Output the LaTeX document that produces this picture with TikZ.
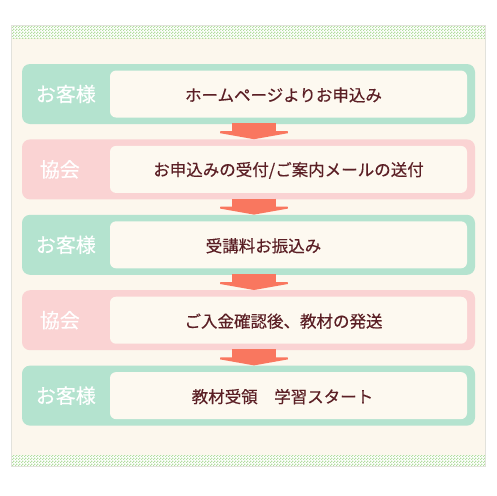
\documentclass[tikz,border=0pt]{standalone}
\usepackage{fontspec}
\newfontfamily\jpfont[FakeBold=0.4]{Noto Sans CJK JP}
\usetikzlibrary{arrows.meta,positioning,patterns}

\definecolor{cream}{HTML}{FCF7ED}
\definecolor{paper}{HTML}{FDF9F0}
\definecolor{mint}{HTML}{B4E3CF}
\definecolor{blush}{HTML}{FAD3D3}
\definecolor{salmon}{HTML}{F9775F}
\definecolor{maroon}{HTML}{5B1F25}
\definecolor{checkgreen}{HTML}{B2DE9F}
\definecolor{framegray}{HTML}{E2E2DC}

\pgfdeclarepatternformonly{finecheck}{\pgfpointorigin}{\pgfqpoint{3pt}{3pt}}{\pgfqpoint{3pt}{3pt}}{%
  \pgfpathrectangle{\pgfpointorigin}{\pgfqpoint{1.5pt}{1.5pt}}%
  \pgfpathrectangle{\pgfqpoint{1.5pt}{1.5pt}}{\pgfqpoint{1.5pt}{1.5pt}}%
  \pgfusepath{fill}}

\begin{document}
\begin{tikzpicture}[
  x=1pt, y=-1pt,
  node distance=15pt,
  row/.style={rectangle, rounded corners=8pt, inner sep=0pt, minimum width=453pt, minimum height=60pt},
  client/.style={row, fill=mint},
  office/.style={row, fill=blush},
  panel/.style={rectangle, rounded corners=6pt, fill=paper, inner sep=0pt, minimum width=357pt, minimum height=47pt},
  tag/.style={font=\jpfont\fontsize{20}{24}\selectfont, text=white, inner sep=0pt},
  msg/.style={font=\jpfont\fontsize{16.5}{20}\selectfont, text=maroon, inner sep=0pt},
  flow/.style={salmon, line width=44pt, -{Triangle[width=90pt,length=8pt]}}
]
\useasboundingbox (0,0) rectangle (496,496);

% frame
\fill[cream] (11,25) rectangle (485,466);
\fill[white] (11,25) rectangle (485,38);
\fill[white] (11,455) rectangle (485,466);
\fill[pattern=finecheck, pattern color=checkgreen] (11,25) rectangle (485,38);
\fill[pattern=finecheck, pattern color=checkgreen] (11,455) rectangle (485,466);
\draw[framegray, line width=0.8pt] (11,25) rectangle (485,466);

% rows
\node[client] (row1) at (248.5,94) {};
\node[office, below=of row1] (row2) {};
\node[client, below=of row2] (row3) {};
\node[office, below=of row3] (row4) {};
\node[client, below=of row4] (row5) {};

\node[panel, left=8pt of row1.east] (in1) {};
\node[panel, left=8pt of row2.east] (in2) {};
\node[panel, left=8pt of row3.east] (in3) {};
\node[panel, left=8pt of row4.east] (in4) {};
\node[panel, left=8pt of row5.east] (in5) {};

\node[tag] (who1) at ([xshift=44pt]row1.west) {お客様};
\node[tag] (who2) at ([xshift=38pt]row2.west) {協会};
\node[tag] (who3) at ([xshift=44pt]row3.west) {お客様};
\node[tag] (who4) at ([xshift=38pt]row4.west) {協会};
\node[tag] (who5) at ([xshift=44pt]row5.west) {お客様};

\node[msg] (txt1) at ([xshift=-5pt,yshift=-1pt]in1.center) {ホームページよりお申込み};
\node[msg] (txt2) at ([xshift=0pt,yshift=-1pt]in2.center) {お申込みの受付/ご案内メールの送付};
\node[msg] (txt3) at ([xshift=-25pt,yshift=-1pt]in3.center) {受講料お振込み};
\node[msg] (txt4) at ([xshift=-5pt,yshift=-1pt]in4.center) {ご入金確認後、教材の発送};
\node[msg] (txt5) at ([xshift=-6pt,yshift=-1pt]in5.center) {教材受領　学習スタート};

% arrows
\draw[flow] ([xshift=5.5pt,yshift=1pt]row1.south) -- ([xshift=5.5pt]row2.north);
\draw[flow] ([xshift=5.5pt,yshift=1pt]row2.south) -- ([xshift=5.5pt]row3.north);
\draw[flow] ([xshift=5.5pt,yshift=1pt]row3.south) -- ([xshift=5.5pt]row4.north);
\draw[flow] ([xshift=5.5pt,yshift=1pt]row4.south) -- ([xshift=5.5pt]row5.north);
\end{tikzpicture}
\end{document}
